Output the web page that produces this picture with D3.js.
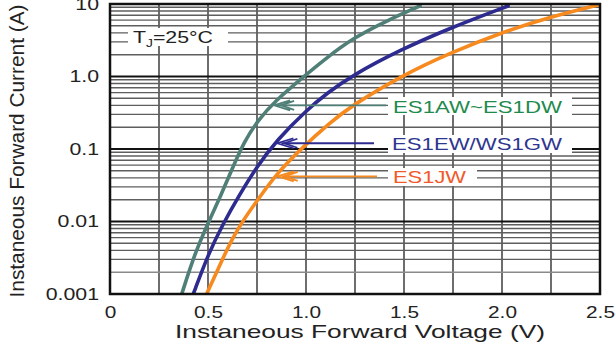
<!DOCTYPE html>
<html>
<head>
<meta charset="utf-8">
<script src="https://cdn.jsdelivr.net/npm/d3@7"></script>
<style>
  body { margin: 0; background: #fff; }
  text { font-family: "Liberation Sans", Arial, sans-serif; }
</style>
</head>
<body>
<script>
// Forward voltage (V) / forward current (A)
const seriesNames = ["ES1AW~ES1DW", "ES1EW/WS1GW", "ES1JW"];
const greenV = [0.366, 0.434, 0.500, 0.566, 0.628, 0.684, 0.755, 0.842, 0.985, 1.097, 1.240, 1.429, 1.582];
const greenI = [0.001, 0.0037, 0.0095, 0.023, 0.057, 0.125, 0.25, 0.46, 0.98, 1.74, 3.4, 6.2, 9.4];
const blueV = [0.425, 0.502, 0.578, 0.655, 0.749, 0.851, 1.004, 1.106, 1.24, 1.48, 1.735, 2.031];
const blueI = [0.001, 0.0036, 0.0094, 0.022, 0.057, 0.133, 0.345, 0.586, 1.05, 2.32, 4.67, 9.4];
const orangeV = [0.493, 0.587, 0.621, 0.68, 0.765, 0.851, 0.986, 1.122, 1.224, 1.495, 1.735, 2.005, 2.245, 2.49];
const orangeI = [0.001, 0.0036, 0.0056, 0.0105, 0.022, 0.046, 0.108, 0.229, 0.383, 1.05, 2.11, 4.11, 6.62, 9.7];
// current where each label arrow points at its curve
const arrowI = [0.4, 0.12, 0.042];

const xTicks = [0, 0.5, 1.0, 1.5, 2.0, 2.5];
const xTickLabels = ["0", "0.5", "1.0", "1.5", "2.0", "2.5"];
const yTicks = [0.001, 0.01, 0.1, 1, 10];
const yTickLabels = ["0.001", "0.01", "0.1", "1.0", "10"];

const W = 616, H = 345;
const pLeft = 110, pRight = 600, pTop = 4, pBottom = 294;

const svg = d3.select("body").append("svg")
    .attr("width", W)
    .attr("height", H);

const x = d3.scaleLinear().domain([0, 2.5]).range([pLeft, pRight]);
const y = d3.scaleLog().domain([0.001, 10]).range([pBottom, pTop]);

// the reference uses a wide, stretched face - widen measured text
function stretch(sel, factor) {
    sel.each(function () {
        const len = this.getComputedTextLength();
        d3.select(this)
            .attr("textLength", len * factor)
            .attr("lengthAdjust", "spacingAndGlyphs");
    });
}

// grid - vertical every 0.25 V
const grid = svg.append("g");
grid.selectAll(".vg")
    .data(d3.range(1, 10).map(k => k * 0.25))
    .enter().append("line")
    .attr("x1", d => x(d)).attr("x2", d => x(d))
    .attr("y1", pTop).attr("y2", pBottom)
    .attr("stroke", "#5e5e5e").attr("stroke-width", 1.8);

// minor horizontal lines 2..9 in every decade
const minor = [];
[0.001, 0.01, 0.1, 1].forEach(dec => {
    for (let k = 2; k <= 9; k++) minor.push(dec * k);
});
grid.selectAll(".hg")
    .data(minor)
    .enter().append("line")
    .attr("x1", pLeft).attr("x2", pRight)
    .attr("y1", d => y(d)).attr("y2", d => y(d))
    .attr("stroke", d => Math.abs(d - 0.002) < 1e-9 ? "#8a8a8a" : "#5e5e5e")
    .attr("stroke-width", 1.4);

// decade lines
grid.selectAll(".hm")
    .data([0.01, 0.1, 1])
    .enter().append("line")
    .attr("x1", pLeft).attr("x2", pRight)
    .attr("y1", d => y(d)).attr("y2", d => y(d))
    .attr("stroke", "#111").attr("stroke-width", 2);

// curves
svg.append("clipPath").attr("id", "plot")
    .append("rect").attr("x", pLeft).attr("y", pTop)
    .attr("width", pRight - pLeft).attr("height", pBottom - pTop);

const curveColors = ["#4f7f77", "#2d2b8f", "#f78a1e"];
const textColors = ["#1f8a4e", "#2e3690", "#f15a2a"];
const series = [
    greenV.map((v, i) => [v, greenI[i]]),
    blueV.map((v, i) => [v, blueI[i]]),
    orangeV.map((v, i) => [v, orangeI[i]])
];

const line = d3.line()
    .x(d => x(d[0]))
    .y(d => y(d[1]))
    .curve(d3.curveBasis);

svg.append("g").attr("clip-path", "url(#plot)")
    .selectAll("path")
    .data(series)
    .enter().append("path")
    .attr("d", line)
    .attr("fill", "none")
    .attr("stroke", (d, i) => curveColors[i])
    .attr("stroke-width", 3.6)
    .attr("stroke-linecap", "round");

// frame
svg.append("rect")
    .attr("x", pLeft).attr("y", pTop)
    .attr("width", pRight - pLeft).attr("height", pBottom - pTop)
    .attr("fill", "none").attr("stroke", "#111").attr("stroke-width", 2.5);

// axes (labels only)
const xAxis = svg.append("g")
    .attr("transform", `translate(0,${pBottom})`)
    .call(d3.axisBottom(x).tickValues(xTicks).tickSize(0).tickPadding(12.5)
        .tickFormat((d, i) => xTickLabels[i]));
xAxis.select(".domain").remove();
xAxis.selectAll("text")
    .attr("font-size", 16).attr("fill", "#222")
    .style("font-family", "'Liberation Sans', Arial, sans-serif")
    .call(stretch, 1.3);

const yAxis = svg.append("g")
    .attr("transform", `translate(${pLeft},0)`)
    .call(d3.axisLeft(y).tickValues(yTicks).tickSize(0).tickPadding(11)
        .tickFormat((d, i) => yTickLabels[i]));
yAxis.select(".domain").remove();
yAxis.selectAll("text")
    .attr("font-size", 16).attr("fill", "#222")
    .style("font-family", "'Liberation Sans', Arial, sans-serif")
    .call(stretch, 1.33);

// axis titles
svg.append("text")
    .attr("x", 360).attr("y", 338)
    .attr("text-anchor", "middle")
    .attr("font-size", 19).attr("fill", "#222")
    .attr("textLength", 370).attr("lengthAdjust", "spacingAndGlyphs")
    .text("Instaneous Forward Voltage (V)");

svg.append("text")
    .attr("transform", "translate(24,151) rotate(-90)")
    .attr("text-anchor", "middle")
    .attr("font-size", 20).attr("fill", "#222")
    .attr("textLength", 293).attr("lengthAdjust", "spacingAndGlyphs")
    .text("Instaneous Forward Current (A)");

// Tj box
svg.append("rect")
    .attr("x", 128).attr("y", 28).attr("width", 100).attr("height", 18)
    .attr("fill", "#fff");
const tj = svg.append("text")
    .attr("x", 133).attr("y", 43)
    .attr("font-size", 17).attr("fill", "#222")
    .attr("textLength", 80).attr("lengthAdjust", "spacingAndGlyphs");
tj.append("tspan").text("T");
tj.append("tspan").attr("font-size", 11).attr("dy", 4).text("J");
tj.append("tspan").attr("dy", -4).text("=25°C");

// label boxes with arrows
const labelBox = [
    {bx: 388, by: 97, bw: 184, bh: 18, tx: 393, ty: 112.5, tl: 169, lineEnd: 386},
    {bx: 388, by: 135, bw: 184, bh: 18, tx: 392, ty: 149.5, tl: 170, lineEnd: 374},
    {bx: 388, by: 168, bw: 89, bh: 18, tx: 393, ty: 183.3, tl: 73, lineEnd: 377}
];

// V on a curve at a given current (log interpolation)
function voltageAt(s, cur) {
    for (let k = 1; k < s.length; k++) {
        if (s[k][1] >= cur) {
            const t = (Math.log(cur) - Math.log(s[k - 1][1])) / (Math.log(s[k][1]) - Math.log(s[k - 1][1]));
            return s[k - 1][0] + t * (s[k][0] - s[k - 1][0]);
        }
    }
    return s[s.length - 1][0];
}

labelBox.forEach((b, i) => {
    const ty = y(arrowI[i]);
    const tx = x(voltageAt(series[i], arrowI[i])) + 3;
    const g = svg.append("g");
    g.append("line")
        .attr("x1", tx + 4).attr("x2", b.lineEnd)
        .attr("y1", ty).attr("y2", ty)
        .attr("stroke", curveColors[i]).attr("stroke-width", 1.8);
    g.append("path")
        .attr("d", `M${tx + 16},${ty - 5} L${tx},${ty} L${tx + 16},${ty + 5}` +
            `M${tx + 20},${ty - 4.5} L${tx + 7},${ty} L${tx + 20},${ty + 4.5}`)
        .attr("fill", "none")
        .attr("stroke", curveColors[i]).attr("stroke-width", 1.8);
    g.append("rect")
        .attr("x", b.bx).attr("y", b.by).attr("width", b.bw).attr("height", b.bh)
        .attr("fill", "#fff");
    g.append("text")
        .attr("x", b.tx).attr("y", b.ty)
        .attr("font-size", 17).attr("fill", textColors[i])
        .attr("textLength", b.tl).attr("lengthAdjust", "spacingAndGlyphs")
        .text(seriesNames[i]);
});
</script>
</body>
</html>
